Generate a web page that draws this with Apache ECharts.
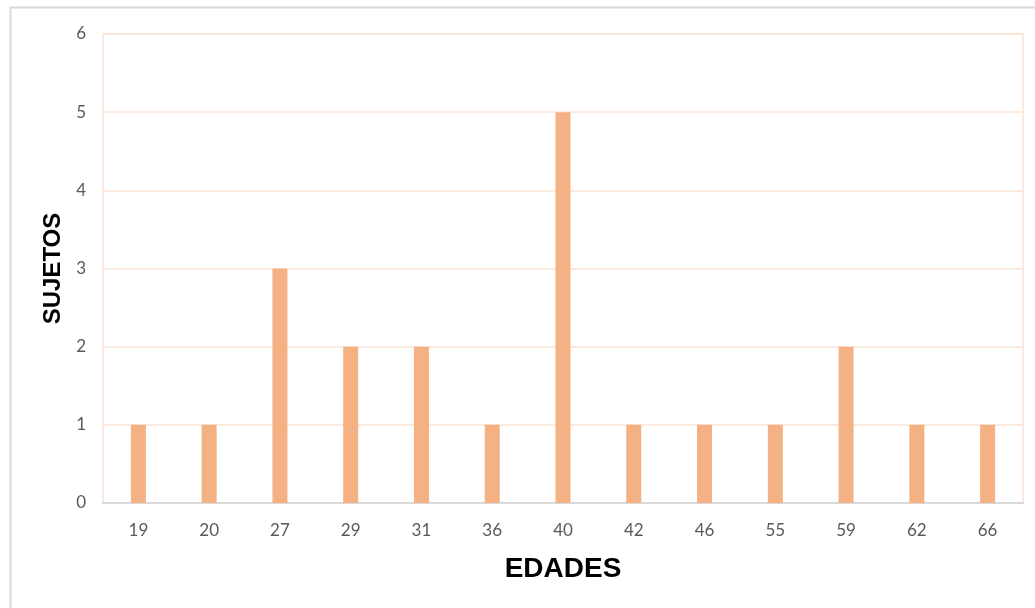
<!DOCTYPE html>
<html>
<head>
<meta charset="utf-8">
<script src="https://cdn.jsdelivr.net/npm/echarts@6/dist/echarts.min.js"></script>
<style>
  html, body { margin: 0; padding: 0; background: #ffffff; }
  #chart { width: 1035px; height: 608px; }
</style>
</head>
<body>
<div id="chart"></div>
<script>
// Edades de los sujetos y número de sujetos por edad
const edades = ['19', '20', '27', '29', '31', '36', '40', '42', '46', '55', '59', '62', '66'];
const sujetos = [1, 1, 3, 2, 2, 1, 5, 1, 1, 1, 2, 1, 1];
const yTicks = [0, 1, 2, 3, 4, 5, 6];

const chart = echarts.init(document.getElementById('chart'), null, { renderer: 'canvas' });

const labelFont = { color: '#595959', fontFamily: 'Lato, "Open Sans", sans-serif', fontSize: 17 };

chart.setOption({
  backgroundColor: '#ffffff',
  animation: false,
  graphic: [{
    type: 'rect',
    shape: { x: 10.5, y: 7.5, width: 1040, height: 620 },
    style: { fill: 'none', stroke: '#d9d9d9', lineWidth: 2 },
    silent: true
  }],
  grid: {
    left: 103, right: 12, top: 34, bottom: 105,
    show: true, borderColor: '#fde3d3', borderWidth: 1.5, backgroundColor: 'transparent'
  },
  xAxis: {
    type: 'category',
    data: edades,
    name: 'EDADES',
    nameLocation: 'middle',
    nameGap: 52,
    nameTextStyle: { fontFamily: '"Liberation Sans", Arial, sans-serif', fontWeight: 'bold', fontSize: 28, color: '#000000' },
    axisLine: { show: true, lineStyle: { color: '#d9d9d9', width: 2 } },
    axisTick: { show: false },
    axisLabel: Object.assign({ margin: 19 }, labelFont)
  },
  yAxis: {
    type: 'value',
    min: yTicks[0],
    max: yTicks[yTicks.length - 1],
    interval: 1,
    name: 'SUJETOS',
    nameLocation: 'middle',
    nameGap: 31,
    nameRotate: 90,
    nameTextStyle: { fontFamily: '"Liberation Sans", Arial, sans-serif', fontWeight: 'bold', fontSize: 24, color: '#000000' },
    axisLine: { show: false },
    axisTick: { show: false },
    axisLabel: Object.assign({ margin: 17 }, labelFont),
    splitLine: { show: true, lineStyle: { color: '#fde3d3', width: 1.5 } }
  },
  series: [{
    type: 'bar',
    data: sujetos,
    barWidth: 15,
    itemStyle: { color: '#f4b183' }
  }]
});
</script>
</body>
</html>
